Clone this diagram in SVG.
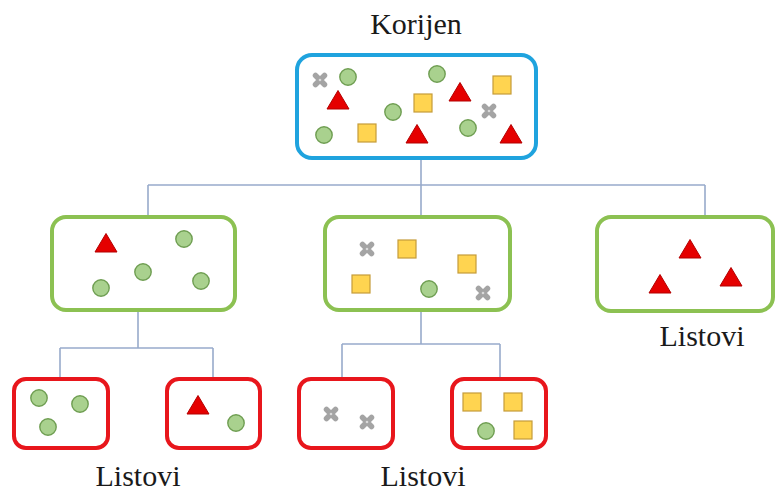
<svg xmlns="http://www.w3.org/2000/svg" xmlns:xlink="http://www.w3.org/1999/xlink" width="776" height="492" viewBox="0 0 776 492">
  <style>
    .root { fill: #fff; stroke: #1fa3de; stroke-width: 4; }
    .mid { fill: #fff; stroke: #8cc152; stroke-width: 4; }
    .leaf { fill: #fff; stroke: #e8161c; stroke-width: 4; }
    .conn { fill: none; stroke: #98abcb; stroke-width: 1.6; }
    .label { font-family: "Liberation Serif", "Times New Roman", serif; font-size: 30px; fill: #1a1a1a; text-anchor: middle; }
  </style>
  <defs>
    <g id="dot"><circle r="8.2" fill="#a9d18e" stroke="#6f9e52" stroke-width="1.4"/></g>
    <g id="sq"><rect x="-9" y="-9" width="18" height="18" fill="#ffd450" stroke="#c59c3a" stroke-width="1.2"/></g>
    <g id="tri"><path d="M0,-9.5 L11,9 L-11,9 Z" fill="#e50000" stroke="#b30000" stroke-width="1" stroke-linejoin="round"/></g>
    <g id="cross">
      <path d="M-4.5,-4.5 L4.5,4.5 M4.5,-4.5 L-4.5,4.5" stroke="#a4a4a4" stroke-width="5.5" stroke-linecap="round"/>
      <circle r="1.3" fill="#d9d9d9"/>
    </g>
  </defs>

  <!-- tree connectors -->
  <g id="connectors">
    <path class="conn" d="M421,158 V185 M148,185 H705 M148,185 V216 M421,185 V216 M705,185 V216"/>
    <path class="conn" d="M138,310 V348 M60,348 H213 M60,348 V378 M213,348 V378"/>
    <path class="conn" d="M421,310 V344 M342,344 H500 M342,344 V378 M500,344 V378"/>
  </g>

  <!-- root -->
  <g id="root">
    <text class="label" x="416" y="34">Korijen</text>
    <rect class="root" x="297" y="55" width="239" height="103" rx="15"/>
    <use xlink:href="#cross" x="320" y="80"/>
    <use xlink:href="#dot" x="348" y="77"/>
    <use xlink:href="#tri" x="338" y="100"/>
    <use xlink:href="#dot" x="437" y="74"/>
    <use xlink:href="#tri" x="460" y="92"/>
    <use xlink:href="#sq" x="502" y="85"/>
    <use xlink:href="#sq" x="423" y="103"/>
    <use xlink:href="#dot" x="393" y="112"/>
    <use xlink:href="#cross" x="489" y="111"/>
    <use xlink:href="#dot" x="324" y="135"/>
    <use xlink:href="#sq" x="367" y="133"/>
    <use xlink:href="#tri" x="417" y="134"/>
    <use xlink:href="#dot" x="468" y="128"/>
    <use xlink:href="#tri" x="511" y="134"/>
  </g>

  <!-- second level -->
  <g id="node-left">
    <rect class="mid" x="52" y="217" width="183" height="93" rx="14"/>
    <use xlink:href="#tri" x="106" y="243"/>
    <use xlink:href="#dot" x="184" y="239"/>
    <use xlink:href="#dot" x="143" y="272"/>
    <use xlink:href="#dot" x="101" y="288"/>
    <use xlink:href="#dot" x="201" y="281"/>
  </g>

  <g id="node-center">
    <rect class="mid" x="325" y="217" width="185" height="93" rx="14"/>
    <use xlink:href="#cross" x="367" y="249"/>
    <use xlink:href="#sq" x="407" y="249"/>
    <use xlink:href="#sq" x="467" y="264"/>
    <use xlink:href="#sq" x="361" y="284"/>
    <use xlink:href="#dot" x="429" y="289"/>
    <use xlink:href="#cross" x="483" y="293"/>
  </g>

  <g id="node-right">
    <rect class="mid" x="597" y="217" width="176" height="94" rx="14"/>
    <use xlink:href="#tri" x="690" y="249"/>
    <use xlink:href="#tri" x="660" y="284"/>
    <use xlink:href="#tri" x="731" y="277"/>
    <text class="label" x="702" y="346">Listovi</text>
  </g>

  <!-- leaves -->
  <g id="leaf-1">
    <rect class="leaf" x="14" y="379" width="94" height="69" rx="12"/>
    <use xlink:href="#dot" x="39" y="398"/>
    <use xlink:href="#dot" x="80" y="404"/>
    <use xlink:href="#dot" x="48" y="427"/>
  </g>

  <g id="leaf-2">
    <rect class="leaf" x="167" y="379" width="93" height="69" rx="12"/>
    <use xlink:href="#tri" x="198" y="405"/>
    <use xlink:href="#dot" x="236" y="423"/>
  </g>

  <g id="leaf-3">
    <rect class="leaf" x="299" y="379" width="94" height="69" rx="12"/>
    <use xlink:href="#cross" x="331" y="414"/>
    <use xlink:href="#cross" x="367" y="422"/>
  </g>

  <g id="leaf-4">
    <rect class="leaf" x="452" y="379" width="94" height="69" rx="12"/>
    <use xlink:href="#sq" x="472" y="402"/>
    <use xlink:href="#sq" x="513" y="402"/>
    <use xlink:href="#dot" x="486" y="431"/>
    <use xlink:href="#sq" x="523" y="430"/>
  </g>

  <g id="leaf-labels">
    <text class="label" x="138" y="486">Listovi</text>
    <text class="label" x="423" y="486">Listovi</text>
  </g>
</svg>
